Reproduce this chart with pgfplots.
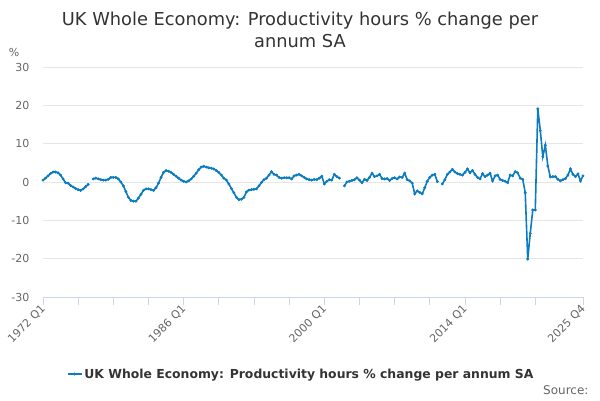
\documentclass[border=0pt]{standalone}
\usepackage{fontspec}
\setmainfont{DejaVu Sans}
\usepackage{pgfplots}
\pgfplotsset{compat=1.18}
\usepackage{pgfplotstable}
\definecolor{ser}{HTML}{0C7CC0}
\definecolor{axl}{HTML}{CCD6EB}
\definecolor{grd}{HTML}{E6E6E6}
\definecolor{lab}{HTML}{666666}
\definecolor{ttl}{HTML}{333333}
\pgfplotstableread{
i v
0 0.5
1 1.0
2 1.6
3 2.2
4 2.6
5 2.6
6 2.4
7 1.8
8 0.8
9 -0.2
10 -0.3
11 -0.9
12 -1.3
13 -1.7
14 -2.0
15 -2.2
16 -1.8
17 -1.2
18 -0.6
19 nan
20 0.8
21 1.0
22 0.8
23 0.6
24 0.5
25 0.5
26 0.7
27 1.2
28 1.2
29 1.2
30 0.8
31 0.0
32 -1.0
33 -2.5
34 -4.0
35 -4.8
36 -5.0
37 -5.0
38 -4.2
39 -3.2
40 -2.2
41 -1.8
42 -1.8
43 -2.0
44 -2.2
45 -1.5
46 -0.3
47 1.2
48 2.5
49 3.0
50 2.8
51 2.5
52 2.0
53 1.5
54 1.0
55 0.5
56 0.2
57 0.0
58 0.3
59 0.8
60 1.5
61 2.3
62 3.2
63 3.9
64 4.1
65 3.9
66 3.7
67 3.6
68 3.4
69 3.0
70 2.5
71 1.8
72 1.0
73 0.5
74 -0.5
75 -1.7
76 -2.8
77 -4.0
78 -4.6
79 -4.5
80 -4.0
81 -2.6
82 -2.1
83 -2.0
84 -1.9
85 -1.8
86 -1.0
87 -0.1
88 0.6
89 1.0
90 1.8
91 2.7
92 2.0
93 1.8
94 1.2
95 1.0
96 1.1
97 1.1
98 1.1
99 0.8
100 1.6
101 1.8
102 2.0
103 1.6
104 1.2
105 0.8
106 0.6
107 0.5
108 0.7
109 0.6
110 1.0
111 1.5
112 -0.5
113 0.2
114 0.6
115 0.5
116 2.0
117 1.4
118 1.0
119 nan
120 -1.0
121 0.0
122 0.2
123 0.4
124 0.6
125 1.1
126 0.5
127 -0.2
128 0.7
129 0.4
130 1.2
131 2.3
132 1.4
133 1.6
134 2.0
135 0.9
136 0.8
137 0.9
138 0.4
139 0.9
140 1.1
141 0.8
142 1.3
143 1.2
144 2.3
145 0.6
146 0.3
147 -0.3
148 -3.1
149 -2.3
150 -2.7
151 -3.1
152 -1.5
153 0.2
154 1.2
155 1.8
156 2.0
157 0.1
158 nan
159 -0.5
160 0.6
161 2.0
162 2.6
163 3.3
164 2.6
165 2.2
166 2.0
167 1.8
168 2.5
169 3.4
170 2.4
171 3.0
172 2.0
173 1.2
174 0.8
175 2.2
176 1.4
177 1.8
178 2.3
179 0.3
180 1.6
181 1.8
182 0.7
183 0.4
184 0.2
185 -0.2
186 1.8
187 1.6
188 2.7
189 2.4
190 1.0
191 0.7
192 -2.8
193 -20.1
194 -13.4
195 -7.3
196 -7.3
197 19.1
198 13.4
199 6.6
200 9.6
201 4.2
202 1.3
203 1.4
204 1.4
205 0.7
206 0.3
207 0.6
208 0.9
209 1.8
210 3.4
211 2.0
212 1.4
213 2.1
214 0.3
215 1.6
}\datatable
\begin{document}
\begin{tikzpicture}
\useasboundingbox (-43pt,-103pt) rectangle (557pt,297pt);
\begin{axis}[
  at={(0pt,0pt)}, anchor=south west,
  scale only axis, width=540pt, height=230pt,
  xmin=0, xmax=215, ymin=-30, ymax=30,
  ytick={-30,-20,...,30},
  xtick={0,56,112,168,215},
  xticklabels={1972 Q1,1986 Q1,2000 Q1,2014 Q1,2025 Q4},
  minor xtick={14,28,42,70,84,98,126,140,154,182,196},
  axis x line*=bottom, axis y line*=left,
  y axis line style={draw=none},
  x axis line style={color=axl, line width=0.8pt, -},
  ymajorgrids, grid style={color=grd, line width=0.8pt},
  ytick style={draw=none},
  xtick style={color=axl, line width=0.8pt},
  minor x tick style={color=axl, line width=0.8pt},
  tick align=outside, major tick length=8pt, minor tick length=8pt,
  /pgf/number format/assume math mode=true,
  ticklabel style={font=\fontsize{11}{13}\selectfont, text=lab},
  yticklabel style={xshift=-2pt},
  xticklabel style={rotate=45, anchor=east, xshift=2pt, yshift=-2pt},
  unbounded coords=jump,
  legend style={at={(0.478,-0.335)}, anchor=center, draw=none, fill=none,
    font=\fontsize{12.4}{14}\selectfont\bfseries, text=ttl},
  legend image code/.code={\draw[#1, mark repeat=2, mark phase=2] plot coordinates {(0pt,0pt) (7pt,0pt) (14pt,0pt)};},
]
\addplot[color=ser, line width=1.6pt, mark=*, mark size=1.2pt, mark options={fill=ser, draw=ser, line width=0.5pt}] table[x=i, y=v] {\datatable};
\addlegendentry{UK Whole Economy: Productivity hours \% change per annum SA}
\end{axis}
\node[font=\fontsize{17.8}{22}\selectfont, text=ttl, align=center, anchor=center] at (257pt,267pt) {UK Whole Economy: Productivity hours \% change per\\annum SA};
\node[font=\fontsize{11}{13}\selectfont, text=lab, anchor=center] at (-29pt,245pt) {\%};
\node[font=\fontsize{12}{14}\selectfont, text=lab, anchor=east] at (549pt,-93pt) {Source:};
\end{tikzpicture}
\end{document}
